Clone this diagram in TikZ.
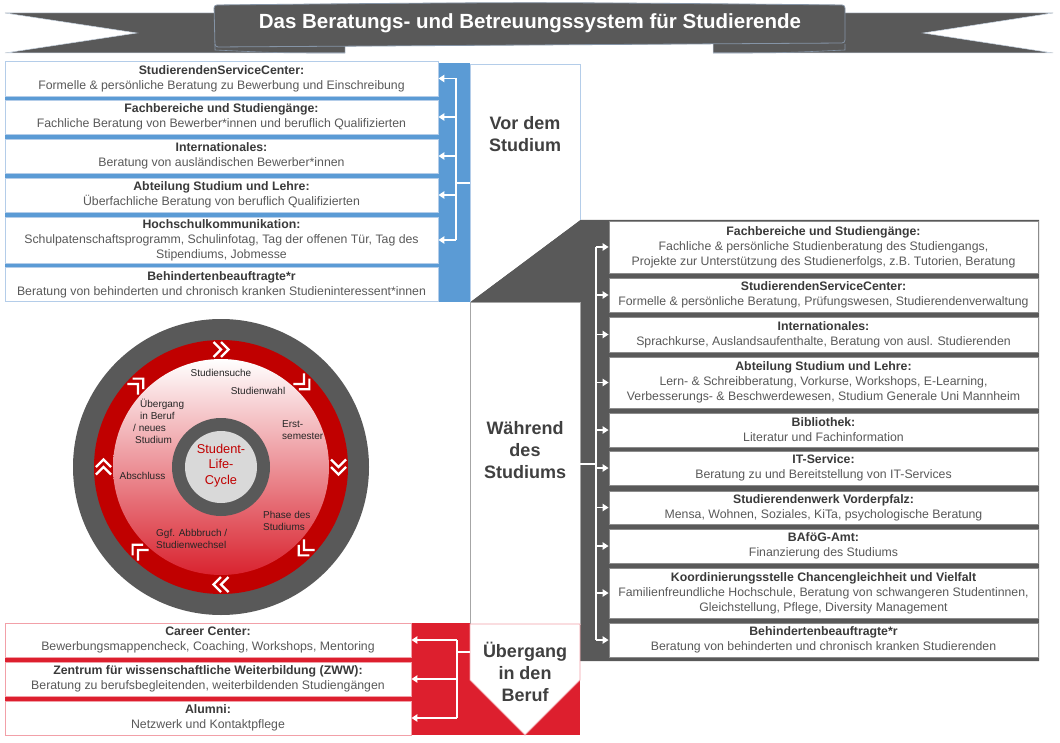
\documentclass[tikz,border=0pt]{standalone}
\usepackage{fontspec}
\setmainfont{Liberation Sans}
\usetikzlibrary{arrows.meta}
\definecolor{bluebg}{HTML}{5B9BD5}
\definecolor{bluebd}{HTML}{B4CDE9}
\definecolor{graydark}{HTML}{595959}
\definecolor{graybd}{HTML}{8C8C8C}
\definecolor{panelgray}{HTML}{A6A6A6}
\definecolor{redbg}{HTML}{DD1F2E}
\definecolor{redbd}{HTML}{F2A0A8}
\definecolor{hdgray}{HTML}{3A3A3A}
\definecolor{bodygray}{HTML}{595959}
\definecolor{phasetxt}{HTML}{404040}
\definecolor{cyctxt}{HTML}{262626}
\definecolor{ringred}{HTML}{C00000}
\definecolor{diskred}{HTML}{D9232F}
\definecolor{diskmid}{HTML}{F0C4C6}
\definecolor{innergray}{HTML}{D9D9D9}
\definecolor{bannerbd}{HTML}{8594A6}
\definecolor{tailbd}{HTML}{C9D5E2}
\tikzset{
 bx/.style={draw=#1, fill=white, line width=0.9pt, align=center, inner sep=0pt,
   font=\fontsize{12.3}{15}\selectfont, text=bodygray},
 bbox/.style={bx=bluebd, minimum width=433pt},
 gbox/.style={bx=graybd, minimum width=429pt},
 rbox/.style={bx=redbd, minimum width=406pt},
 wline/.style={draw=white, line width=1.4pt},
 warr/.style={wline, -{Triangle[length=6pt,width=7.5pt]}},
 phase/.style={align=center, font=\fontsize{18}{22}\selectfont\bfseries, text=phasetxt},
 cyc/.style={font=\fontsize{10}{12}\selectfont, text=cyctxt, inner sep=0pt},
 chev/.style={draw=white, line width=2.2pt},
}
\newcommand{\hd}[1]{{\bfseries\color{hdgray}#1}}
\begin{document}
\begin{tikzpicture}[x=1pt,y=-1pt]
\useasboundingbox (0,0) rectangle (1060,743);
\fill[white] (0,0) rectangle (1060,743);

% title ribbon
\filldraw[fill=graydark, draw=tailbd, line width=0.5pt] (5,13) -- (345,13) -- (345,53) -- (5,53) -- (137,33) -- cycle;
\filldraw[fill=graydark, draw=tailbd, line width=0.5pt] (1053,13) -- (713,13) -- (713,53) -- (1053,53) -- (923,33) -- cycle;
\draw[bannerbd, line width=0.6pt] (215,44) -- (215,50) .. controls (280,53) .. (345,53);
\draw[bannerbd, line width=0.6pt] (845,44) -- (845,50) .. controls (780,53) .. (713,53);
\filldraw[fill=graydark, draw=bannerbd, line width=0.8pt, rounded corners=3pt] (215,47) -- (214,5) .. controls (530,2) .. (845,5) -- (845,43) .. controls (530,45) .. (215,47) -- cycle;
\node[font=\fontsize{20.5}{24}\selectfont\bfseries, text=white] (title) at (530,23)
  {Das Beratungs- und Betreuungssystem für Studierende};

% backgrounds
\fill[bluebg] (5,63) rectangle (470,302);
\fill[graydark] (470,302) -- (580,220) -- (1039,220) -- (1039,661) -- (580,661) -- (580,302) -- cycle;
\fill[redbg] (5,623) rectangle (580,735);

% phase panels
\fill[white] (470,64) -- (580,64) -- (580,220) -- (470,302) -- cycle;
\draw[bluebd, line width=0.9pt] (470,302) -- (470,64) -- (580,64) -- (580,220);
\filldraw[fill=white, draw=panelgray, line width=0.9pt] (470,302) rectangle (580,624);
\filldraw[fill=white, draw=redbd, line width=0.9pt] (470,624) -- (580,624) -- (580,680) -- (525,735) -- (470,680) -- cycle;
\node[phase] (vor) at (525,134) {Vor dem\\Studium};
\node[phase] (waehrend) at (525,450) {Während\\des\\Studiums};
\node[phase] (uebergang) at (525,672) {Übergang\\in den\\Beruf};

% blue boxes
\node[bbox, minimum height=35pt] (b1) at (221.5,78.5) {\hd{StudierendenServiceCenter:}\\Formelle \& persönliche Beratung zu Bewerbung und Einschreibung};
\node[bbox, minimum height=34pt] (b2) at (221.5,117) {\hd{Fachbereiche und Studiengänge:}\\Fachliche Beratung von Bewerber*innen und beruflich Qualifizierten};
\node[bbox, minimum height=34pt] (b3) at (221.5,156) {\hd{Internationales:}\\Beratung von ausländischen Bewerber*innen};
\node[bbox, minimum height=34pt] (b4) at (221.5,195) {\hd{Abteilung Studium und Lehre:}\\Überfachliche Beratung von beruflich Qualifizierten};
\node[bbox, minimum height=46pt] (b5) at (221.5,240) {\hd{Hochschulkommunikation:}\\Schulpatenschaftsprogramm, Schulinfotag, Tag der offenen Tür, Tag des\\Stipendiums, Jobmesse};
\node[bbox, minimum height=34pt] (b6) at (221.5,284.5) {\hd{Behindertenbeauftragte*r}\\Beratung von behinderten und chronisch kranken Studieninteressent*innen};

% gray boxes
\node[gbox, minimum height=52pt] (g1) at (823.5,247) {\hd{Fachbereiche und Studiengänge:}\\Fachliche \& persönliche Studienberatung des Studiengangs,\\Projekte zur Unterstützung des Studienerfolgs, z.B. Tutorien, Beratung};
\node[gbox, minimum height=34pt] (g2) at (823.5,295) {\hd{StudierendenServiceCenter:}\\Formelle \& persönliche Beratung, Prüfungswesen, Studierendenverwaltung};
\node[gbox, minimum height=35pt] (g3) at (823.5,334.5) {\hd{Internationales:}\\Sprachkurse, Auslandsaufenthalte, Beratung von ausl. Studierenden};
\node[gbox, minimum height=51pt] (g4) at (823.5,382.5) {\hd{Abteilung Studium und Lehre:}\\Lern- \& Schreibberatung, Vorkurse, Workshops, E-Learning,\\Verbesserungs- \& Beschwerdewesen, Studium Generale Uni Mannheim};
\node[gbox, minimum height=34pt] (g5) at (823.5,430) {\hd{Bibliothek:}\\Literatur und Fachinformation};
\node[gbox, minimum height=34pt] (g6) at (823.5,468) {\hd{IT-Service:}\\Beratung zu und Bereitstellung von IT-Services};
\node[gbox, minimum height=33pt] (g7) at (823.5,507.5) {\hd{Studierendenwerk Vorderpfalz:}\\Mensa, Wohnen, Soziales, KiTa, psychologische Beratung};
\node[gbox, minimum height=34pt] (g8) at (823.5,546) {\hd{BAföG-Amt:}\\Finanzierung des Studiums};
\node[gbox, minimum height=50pt] (g9) at (823.5,593) {\hd{Koordinierungsstelle Chancengleichheit und Vielfalt}\\Familienfreundliche Hochschule, Beratung von schwangeren Studentinnen,\\Gleichstellung, Pflege, Diversity Management};
\node[gbox, minimum height=34pt] (g10) at (823.5,640) {\hd{Behindertenbeauftragte*r}\\Beratung von behinderten und chronisch kranken Studierenden};

% red boxes
\node[rbox, minimum height=34pt] (r1) at (208,640) {\hd{Career Center:}\\Bewerbungsmappencheck, Coaching, Workshops, Mentoring};
\node[rbox, minimum height=34pt] (r2) at (208,679) {\hd{Zentrum für wissenschaftliche Weiterbildung (ZWW):}\\Beratung zu berufsbegleitenden, weiterbildenden Studiengängen};
\node[rbox, minimum height=34pt] (r3) at (208,718) {\hd{Alumni:}\\Netzwerk und Kontaktpflege};

% connectors: before the study
\coordinate (vbus) at (456,183);
\coordinate (vin) at (470,183);
\draw[wline] (vin) -- (vbus);
\draw[wline] (vbus |- b1.east) -- (vbus |- b5.east);
\foreach \n in {b1,b2,b3,b4,b5} \draw[warr] (vbus |- \n.east) -- (\n.east);

% connectors: during the study
\coordinate (wbus) at (596,464);
\coordinate (win) at (580,464);
\draw[wline] (win) -- (wbus);
\draw[wline] (wbus |- g1.west) -- (wbus |- g10.west);
\foreach \n in {g1,g2,g3,g4,g5,g6,g7,g8,g9,g10} \draw[warr] (wbus |- \n.west) -- (\n.west);

% connectors: transition to work
\coordinate (ubus) at (457,652);
\coordinate (uin) at (470,652);
\draw[wline] (uin) -- (ubus);
\draw[wline] (ubus |- r1.east) -- (ubus |- r3.east);
\foreach \n in {r1,r2,r3} \draw[warr] (ubus |- \n.east) -- (\n.east);

% student life cycle
\begin{scope}[shift={(221,467)}, x=1pt, y=1pt]
\fill[graydark] (0,0) circle (148pt);
\fill[ringred] (0,0) circle (127pt);
\shade[top color=white, middle color=diskmid, bottom color=diskred] (0,0) circle (108pt);
\fill[graydark] (0,0) circle (49pt);
\fill[innergray] (0,0) circle (36pt);
\foreach \a in {90,45,0,-45,-90,-135,180,135} {
  \begin{scope}[rotate=\a]
    \draw[chev] (110,0) -- (117.5,-7.5) -- (125,0);
    \draw[chev] (110,7.5) -- (117.5,0) -- (125,7.5);
  \end{scope}
}
\end{scope}
\node[cyc] (c1) at (221,373) {Studiensuche};
\node[cyc] (c2) at (258,391) {Studienwahl};
\node[cyc, align=left, anchor=west] (c3) at (133,421.5) {\hspace*{7pt}Übergang\\\hspace*{7pt}in Beruf\\/ neues\\\hspace*{2pt}Studium};
\node[cyc, align=left, anchor=west] (c4) at (282,430.5) {Erst-\\semester};
\node[cyc] (c5) at (142.5,476) {Abschluss};
\node[cyc, align=left, anchor=west] (c6) at (263,521) {Phase des\\Studiums};
\node[cyc, align=left, anchor=west] (c7) at (156,538.5) {Ggf. Abbbruch /\\Studienwechsel};
\node[font=\fontsize{12.8}{15.5}\selectfont, text=ringred, align=center, inner sep=0pt] (c0) at (221,465.5) {Student-\\Life-\\Cycle};
\end{tikzpicture}
\end{document}
